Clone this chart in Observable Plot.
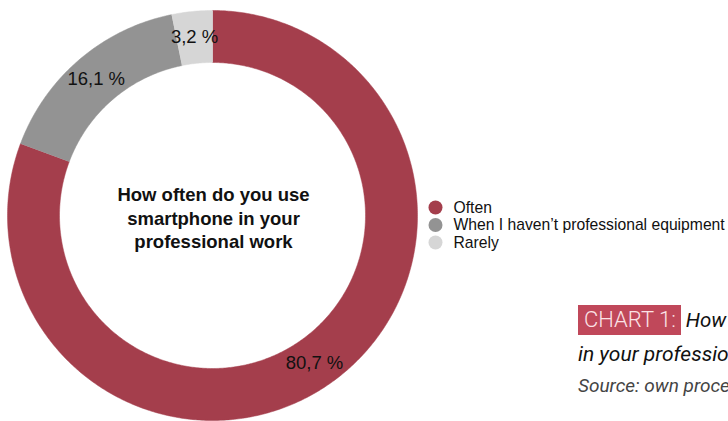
<!DOCTYPE html>
<html><head><meta charset="utf-8">
<script src="https://cdn.jsdelivr.net/npm/d3@7"></script>
<script src="https://cdn.jsdelivr.net/npm/@observablehq/plot@0.6"></script>
<style>
html,body{margin:0;padding:0;width:728px;height:421px;overflow:hidden;background:#fff;}
#wrap{position:relative;width:728px;height:421px;}
#cap{position:absolute;left:578px;top:305px;white-space:nowrap;font-family:Roboto,sans-serif;}
#cap .tag{display:inline-block;background:#c0485a;color:#fbe3e6;font-weight:300;font-size:22px;line-height:30px;padding:0 5px 0 6px;height:30px;vertical-align:top;}
#cap .t1{font-style:italic;font-size:20.5px;line-height:30px;color:#111;margin-left:5px;vertical-align:top;}
#cap .t2{font-style:italic;font-size:21px;color:#111;margin-top:6px;line-height:26px;}
#cap .src{font-style:italic;font-size:19px;color:#444;margin-top:8px;line-height:22px;}
</style></head>
<body><div id="wrap"></div>
<script>
const categories = ["Often", "When I haven\u2019t professional equipment", "Rarely"];
const values = [80.7, 16.1, 3.2];
const labels = ["80,7 %", "16,1 %", "3,2 %"];
const colors = ["#a43e4c", "#939393", "#d6d6d6"];
const title = ["How often do you use", "smartphone in your", "professional work"];

const W = 728, H = 421;
const cx = 212, cy = 215, R = 205, r0 = 153;

const pie = d3.pie().sort(null).value(d => d.value)(categories.map((c, i) => ({category: c, value: values[i], label: labels[i]})));

// polygon points for each slice (angles clockwise from 12 o'clock)
const pts = [];
for (const s of pie) {
  const n = Math.max(8, Math.ceil((s.endAngle - s.startAngle) / 0.01));
  for (let k = 0; k <= n; k++) {
    const a = s.startAngle + (s.endAngle - s.startAngle) * k / n;
    pts.push({category: s.data.category, x: cx + R * Math.sin(a), y: cy - R * Math.cos(a)});
  }
  for (let k = n; k >= 0; k--) {
    const a = s.startAngle + (s.endAngle - s.startAngle) * k / n;
    pts.push({category: s.data.category, x: cx + r0 * Math.sin(a), y: cy - r0 * Math.cos(a)});
  }
}
const rm = (R + r0) / 2;
const lab = pie.map(s => {
  const a = (s.startAngle + s.endAngle) / 2;
  return {label: s.data.label, x: cx + rm * Math.sin(a), y: cy - rm * Math.cos(a)};
});
const titleRows = title.map((t, i) => ({t, x: cx + 1, y: cy - 20 + i * 23.5}));
const legRows = categories.map((c, i) => ({c, x: 435, y: 207 + i * 17.5}));

const chart = Plot.plot({
  width: W, height: H,
  margin: 0,
  x: {domain: [0, W], range: [0, W], axis: null},
  y: {domain: [0, H], range: [0, H], axis: null},
  color: {domain: categories, range: colors},
  style: {fontFamily: "'Liberation Sans', Arial, sans-serif", background: "transparent"},
  marks: [
    Plot.line(pts, {x: "x", y: "y", z: "category", fill: "category", stroke: "category", strokeWidth: 0.5, curve: "linear"}),
    Plot.text(lab, {x: "x", y: "y", text: "label", fontSize: 18.5, fill: "#111"}),
    Plot.text(titleRows, {x: "x", y: "y", text: "t", fontSize: 18.5, fontWeight: "bold", fill: "#111"}),
    Plot.dot(legRows, {x: "x", y: "y", r: 7, fill: "c", stroke: null}),
    Plot.text(legRows, {x: d => d.x + 18, y: "y", text: "c", textAnchor: "start", fontSize: 15.7, fill: "#111"})
  ]
});
const wrap = document.getElementById("wrap");
wrap.appendChild(chart);
const cap = document.createElement("div");
cap.id = "cap";
cap.innerHTML = '<div><span class="tag">CHART 1:</span><span class="t1">How often do you use smartphone</span></div>' +
  '<div class="t2">in your professional work</div>' +
  '<div class="src">Source: own processing</div>';
wrap.appendChild(cap);
</script></body></html>
